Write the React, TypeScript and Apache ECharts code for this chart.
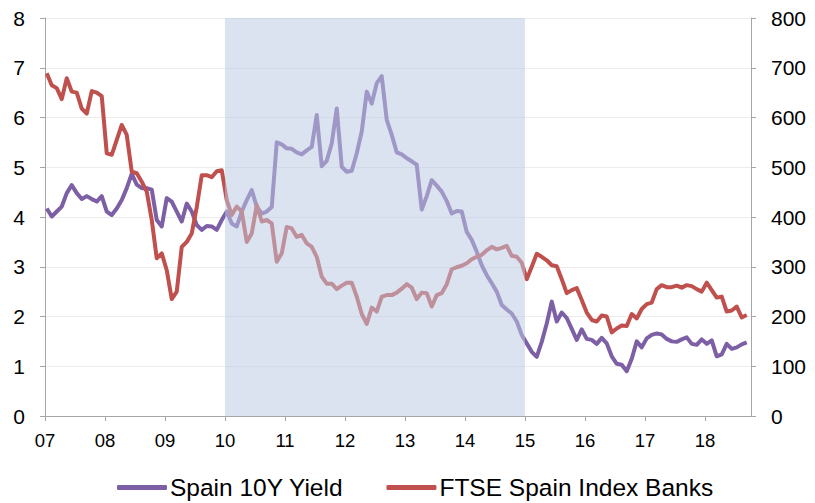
import React, { useEffect, useRef } from "react";
import * as echarts from "echarts";

// Monthly observations, Jan 2007 – Sep 2018
const startYear = 2007;
const yearTicks = ["07", "08", "09", "10", "11", "12", "13", "14", "15", "16", "17", "18"];

// Spain 10Y government bond yield (%), left axis
const spain10y = [
  4.17, 4.01, 4.11, 4.21, 4.48, 4.64, 4.48, 4.36, 4.42, 4.36, 4.31, 4.42,
  4.11, 4.04, 4.17, 4.34, 4.58, 4.87, 4.65, 4.58, 4.58, 4.55, 3.94, 3.81,
  4.38, 4.31, 4.11, 3.91, 4.27, 4.11, 3.84, 3.74, 3.82, 3.81, 3.74, 3.94,
  4.11, 3.87, 3.81, 4.11, 4.34, 4.54, 4.21, 4.07, 4.11, 4.2, 5.5, 5.46,
  5.38, 5.37, 5.3, 5.26, 5.34, 5.41, 6.05, 5.02, 5.13, 5.48, 6.18, 5.01,
  4.91, 4.93, 5.28, 5.72, 6.52, 6.28, 6.69, 6.83, 5.95, 5.65, 5.3, 5.26,
  5.18, 5.12, 5.05, 4.15, 4.42, 4.74, 4.63, 4.51, 4.32, 4.07, 4.12, 4.11,
  3.7, 3.54, 3.3, 3.03, 2.83, 2.67, 2.5, 2.23, 2.14, 2.06, 1.9, 1.63,
  1.46, 1.29, 1.19, 1.49, 1.86, 2.3, 1.9, 2.08, 1.97, 1.75, 1.53, 1.74,
  1.55, 1.53, 1.45, 1.57, 1.46, 1.2, 1.05, 1.03, 0.9, 1.15, 1.5, 1.38,
  1.56, 1.63, 1.66, 1.64, 1.55, 1.5, 1.49, 1.54, 1.58, 1.45, 1.43, 1.54,
  1.45, 1.52, 1.2, 1.24, 1.45, 1.35, 1.38, 1.44, 1.48,
];

// FTSE Spain Index Banks, right axis
const ftseBanks = [
  689, 665, 659, 637, 679, 652, 650, 618, 608, 653, 650, 643,
  528, 525, 555, 585, 565, 491, 488, 471, 451, 394, 317, 327,
  293, 235, 250, 340, 350, 367, 420, 484, 484, 480, 492, 494,
  434, 404, 421, 411, 350, 367, 424, 391, 394, 387, 310, 327,
  380, 377, 360, 364, 347, 340, 320, 280, 266, 266, 255, 262,
  268, 268, 240, 205, 185, 218, 210, 240, 243, 243, 248, 256,
  265, 258, 235, 248, 247, 220, 243, 247, 265, 295, 299, 302,
  307, 315, 320, 324, 333, 340, 335, 338, 342, 322, 320, 308,
  275, 300, 326, 320, 313, 303, 301, 275, 247, 253, 257, 233,
  208, 193, 190, 202, 200, 168, 176, 182, 181, 205, 196, 215,
  225, 228, 255, 263, 259, 259, 262, 258, 263, 261, 255, 250,
  268, 253, 238, 240, 210, 212, 220, 198, 203,
];

// Shaded period (start year, end year)
const shadedPeriod = [2010, 2015];

const seriesNames = ["Spain 10Y Yield", "FTSE Spain Index Banks"];

const monthToYear = (i: number) => startYear + (i + 0.35) / 12;

export default function App() {
  const ref = useRef<HTMLDivElement>(null);

  useEffect(() => {
    if (!ref.current) return;
    const chart = echarts.init(ref.current, undefined, { renderer: "svg" });
    const font = "'Liberation Sans', Arial, sans-serif";
    const axisGray = "#a6a6a6";

    chart.setOption({
      animation: false,
      textStyle: { fontFamily: font },
      grid: { left: 45, right: 64, top: 18, bottom: 87, containLabel: false },
      legend: {
        data: seriesNames.map((n) => ({ name: n })),
        left: 117,
        top: 475,
        padding: 0,
        icon: "roundRect",
        itemWidth: 50,
        itemHeight: 5,
        itemGap: 43,
        textStyle: {
          fontSize: 24.5,
          lineHeight: 24,
          color: "#000",
          fontFamily: font,
          padding: [0, 0, 0, -2],
        },
      },
      xAxis: {
        type: "value",
        min: startYear,
        max: 2018.767,
        interval: 1,
        axisLine: { show: true, lineStyle: { color: axisGray, width: 1 } },
        axisTick: { show: true, length: 5, lineStyle: { color: axisGray } },
        splitLine: { show: false },
        axisLabel: {
          fontSize: 18.5,
          color: "#000",
          margin: 15,
          showMaxLabel: false,
          formatter: (v: number) => yearTicks[Math.round(v) - startYear] ?? "",
        },
      },
      yAxis: [
        {
          type: "value",
          min: 0,
          max: 8,
          interval: 1,
          axisLine: { show: true, lineStyle: { color: axisGray } },
          axisTick: { show: true, length: 5, lineStyle: { color: axisGray } },
          splitLine: { show: true, lineStyle: { color: "#ececec", width: 1 } },
          axisLabel: { fontSize: 21, color: "#000", margin: 20 },
        },
        {
          type: "value",
          min: 0,
          max: 800,
          interval: 100,
          position: "right",
          axisLine: { show: true, lineStyle: { color: axisGray } },
          axisTick: { show: true, length: 5, lineStyle: { color: axisGray } },
          splitLine: { show: false },
          axisLabel: { fontSize: 21, color: "#000", margin: 20 },
        },
      ],
      series: [
        {
          name: seriesNames[0],
          type: "line",
          yAxisIndex: 0,
          showSymbol: false,
          symbol: "none",
          lineStyle: { color: "#7d5fa6", width: 4, join: "round" },
          itemStyle: { color: "#7d5fa6" },
          data: spain10y.map((v, i) => [monthToYear(i), v]),
          z: 2,
        },
        {
          name: seriesNames[1],
          type: "line",
          yAxisIndex: 1,
          showSymbol: false,
          symbol: "none",
          lineStyle: { color: "#c0504d", width: 4, join: "round" },
          itemStyle: { color: "#c0504d" },
          data: ftseBanks.map((v, i) => [monthToYear(i), v]),
          z: 2,
        },
        {
          name: "shade",
          type: "line",
          yAxisIndex: 0,
          data: [],
          z: 10,
          silent: true,
          markArea: {
            silent: true,
            z: 10,
            itemStyle: { color: "rgba(189,202,226,0.53)" },
            data: [[{ xAxis: shadedPeriod[0] }, { xAxis: shadedPeriod[1] }]],
          },
        },
      ],
    });

    return () => chart.dispose();
  }, []);

  return <div ref={ref} style={{ width: 815, height: 503, position: "absolute", left: 0, top: 0 }} />;
}
